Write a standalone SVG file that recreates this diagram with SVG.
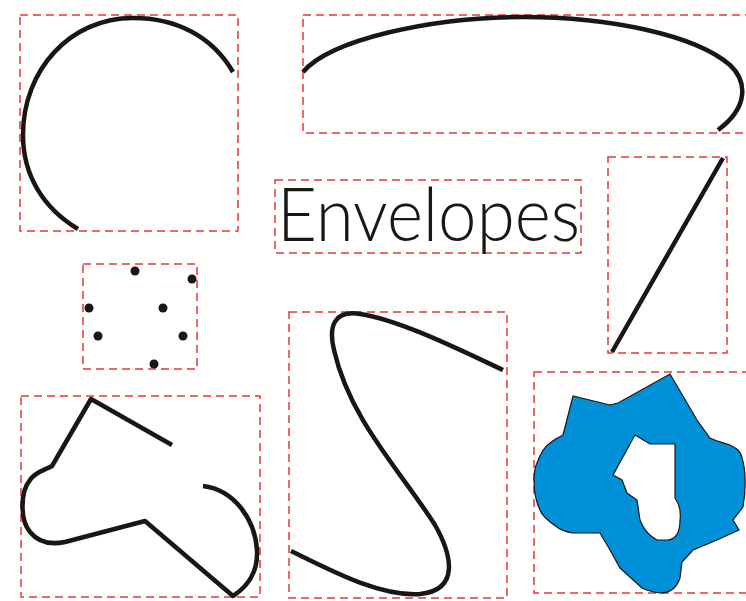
<svg xmlns="http://www.w3.org/2000/svg" width="746" height="601" viewBox="0 0 746 601">
<style>
.box{fill:none;stroke:#e3393b;stroke-width:1.5;stroke-dasharray:8 5}
.crv{fill:none;stroke:#1a1614;stroke-width:4.5;stroke-linecap:butt;stroke-linejoin:round}
.dot{fill:#1a1614}
.blob{fill:#0090d8;stroke:#1a1614;stroke-width:1.2;fill-rule:evenodd}
.lbl{font-family:Lato,"Liberation Sans",sans-serif;font-weight:300;font-size:74px;fill:#1a1614}
</style>
<rect width="746" height="601" fill="#ffffff"/>
<g id="arc">
<rect class="box" x="20" y="15" width="218" height="216"/>
<path class="crv" d="M233,72 C212,36 176,18 133,18 C70,18 23,70 23,135 C23,175 43,208 78,229"/>
</g>
<g id="ellipse-arc">
<rect class="box" x="303" y="15" width="460" height="118"/>
<path class="crv" d="M303,72 C330,40 430,17 523,17 C610,17 695,35 730,65 C748,82 748,108 718,130"/>
</g>
<g id="title">
<rect class="box" x="275" y="180" width="306" height="73"/>
<text class="lbl" x="277" y="241" textLength="303" lengthAdjust="spacingAndGlyphs">Envelopes</text>
</g>
<g id="dots">
<rect class="box" x="83" y="264" width="114" height="105"/>
<circle class="dot" cx="135" cy="271" r="4.5"/>
<circle class="dot" cx="192" cy="279" r="4.5"/>
<circle class="dot" cx="89" cy="308" r="4.5"/>
<circle class="dot" cx="163" cy="308" r="4.5"/>
<circle class="dot" cx="98" cy="336" r="4.5"/>
<circle class="dot" cx="183" cy="336" r="4.5"/>
<circle class="dot" cx="154" cy="364" r="4.5"/>
</g>
<g id="line">
<rect class="box" x="608" y="157" width="119" height="196"/>
<path class="crv" d="M723,158 L612,352"/>
</g>
<g id="polyline">
<rect class="box" x="21" y="396" width="239" height="201"/>
<path class="crv" d="M172,445 L91,399 L52,466 C45,470 35,472 30,480 C20,492 20,520 30,532 C38,542 50,545 65,542 L145,521 L233,596 C250,585 258,570 257,550 C255,520 235,490 203,486"/>
</g>
<g id="s-curve">
<rect class="box" x="289" y="312" width="218" height="286"/>
<path class="crv" d="M503,370 C460,350 400,320 360,314 C335,310 328,325 334,350 C350,420 400,470 435,525 C452,555 460,590 420,594 C380,597 330,570 291,551"/>
</g>
<g id="blob">
<rect class="box" x="534" y="372" width="230" height="221"/>
<path class="blob" d="M670,374 L697,420 L710,438 C718,442 724,443 730,445 C738,449 741,452 742,458 C746,470 746,490 743,507 L733,520 L739,530 L717,540 L693,550 L682,562 L680,578 C676,590 668,593 660,593 C652,592 646,590 642,588 L620,568 L610,550 L600,533 L572,533 C564,531 560,530 557,527 C548,521 542,516 540,510 C535,500 534,490 534,480 C534,472 535,467 537,463 C541,452 545,446 550,443 C555,439 559,437 563,435 L573,396 L610,405 L618,403 Z M635,435 L650,444 L675,444 L675,498 C680,505 681,512 680,520 C680,532 676,539 668,540 L657,540 C650,536 645,532 640,520 L637,500 L627,493 L622,480 L613,475 Z"/>
</g>
</svg>
